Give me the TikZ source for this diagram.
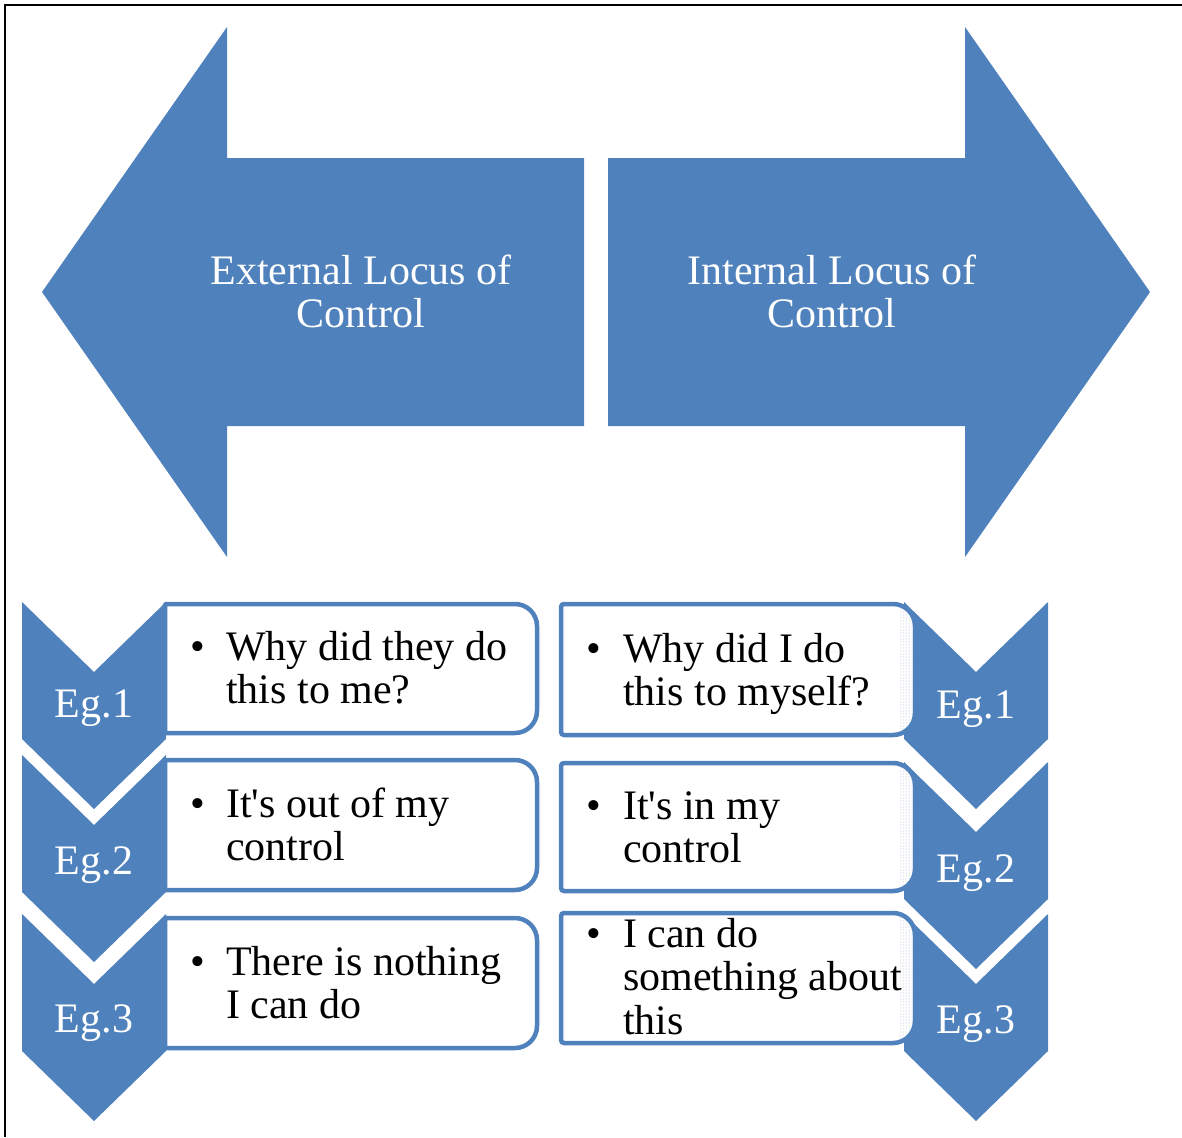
\documentclass[tikz,border=0pt]{standalone}
\usepackage{fontspec}
\setmainfont{Liberation Serif}
\usetikzlibrary{patterns}
\definecolor{ublue}{RGB}{79,129,189}
\definecolor{dotc}{RGB}{150,172,200}
\tikzset{
  chevst/.style={fill=ublue},
  arrowst/.style={fill=ublue},
  boxst/.style={draw=ublue, fill=white, line width=4.5pt},
  dotbox/.style={path picture={\fill[pattern=dots, pattern color=dotc]
      ([xshift=-15pt]path picture bounding box.north east) rectangle (path picture bounding box.south east);}},
  eg/.style={anchor=base, text=white, inner sep=0pt},
  bt/.style={anchor=base west, inner sep=0pt, text=black},
  headt/.style={anchor=base, inner sep=0pt, text=white},
}
% box: #1 left, #2 top, #3 right, #4 bottom, #5 left corner radius, #6 extra style
\newcommand{\rbox}[6]{%
  \filldraw[boxst,#6] ({#1},{-#2-#5}) arc[start angle=180,end angle=90,radius=#5]
    -- ({#3-22},{-#2}) arc[start angle=90,end angle=0,radius=22]
    -- ({#3},{-#4+22}) arc[start angle=0,end angle=-90,radius=22]
    -- ({#1+#5},{-#4}) arc[start angle=270,end angle=180,radius=#5] -- cycle;}
% chevron: #1 left x, #2 top y
\newcommand{\chev}[2]{%
  \fill[chevst] ({#1},{-#2}) -- ({#1+72},{-#2-70}) -- ({#1+144},{-#2})
    -- ({#1+144},{-#2-137}) -- ({#1+72},{-#2-207}) -- ({#1},{-#2-137}) -- cycle;}
\newcommand{\apo}{\textquotesingle}
\begin{document}
\begin{tikzpicture}[x=1pt,y=1pt, every node/.style={font=\fontsize{42}{43.5}\selectfont}]
\useasboundingbox (0,0) rectangle (1182,-1137);
\fill[white] (0,0) rectangle (1182,-1137);
\draw[line width=2.5pt] (5,-1137) -- (5,-5) -- (1182,-5);

% big arrows
\fill[arrowst] (42,-292) -- (227,-27) -- (227,-158) -- (584,-158) -- (584,-426) -- (227,-426) -- (227,-557) -- cycle;
\fill[arrowst] (608,-158) -- (965,-158) -- (965,-27) -- (1150,-292) -- (965,-557) -- (965,-426) -- (608,-426) -- cycle;
\node[headt] (ext) at (361,-284) {\begin{tabular}[t]{@{}c@{}}External Locus of\\Control\end{tabular}};
\node[headt] (int) at (832,-284) {\begin{tabular}[t]{@{}c@{}}Internal Locus of\\Control\end{tabular}};

% left column
\rbox{165}{604}{537}{733}{1}{}
\rbox{165}{760}{537}{890}{1}{}
\rbox{165}{918}{537}{1048}{1}{}
\chev{22}{602}
\chev{22}{755}
\chev{22}{914}
\node[eg] (l1) at (94,-717) {Eg.1};
\node[eg] (l2) at (94,-874) {Eg.2};
\node[eg] (l3) at (94,-1032) {Eg.3};
\node[bt] (lt1) at (190,-660) {\begin{tabular}[t]{@{}l@{}l@{}}\makebox[36pt][l]{\textbullet}&Why did they do\\&this to me?\end{tabular}};
\node[bt] (lt2) at (190,-817) {\begin{tabular}[t]{@{}l@{}l@{}}\makebox[36pt][l]{\textbullet}&It\apo s out of my\\&control\end{tabular}};
\node[bt] (lt3) at (190,-975) {\begin{tabular}[t]{@{}l@{}l@{}}\makebox[36pt][l]{\textbullet}&There is nothing\\&I can do\end{tabular}};

% right column
\chev{904}{602}
\chev{904}{762}
\chev{904}{914}
\rbox{561}{604}{915}{735}{3}{dotbox}
\rbox{561}{763}{915}{891}{3}{dotbox}
\rbox{561}{913}{915}{1043}{3}{dotbox}
\node[eg] (r1) at (976,-718) {Eg.1};
\node[eg] (r2) at (976,-882) {Eg.2};
\node[eg] (r3) at (976,-1033) {Eg.3};
\node[bt] (rt1) at (586,-662) {\begin{tabular}[t]{@{}l@{}l@{}}\makebox[37pt][l]{\textbullet}&Why did I do\\&this to myself?\end{tabular}};
\node[bt] (rt2) at (586,-819) {\begin{tabular}[t]{@{}l@{}l@{}}\makebox[37pt][l]{\textbullet}&It\apo s in my\\&control\end{tabular}};
\node[bt] (rt3) at (586,-947) {\begin{tabular}[t]{@{}l@{}l@{}}\makebox[37pt][l]{\textbullet}&I can do\\&something about\\&this\end{tabular}};
\end{tikzpicture}
\end{document}
